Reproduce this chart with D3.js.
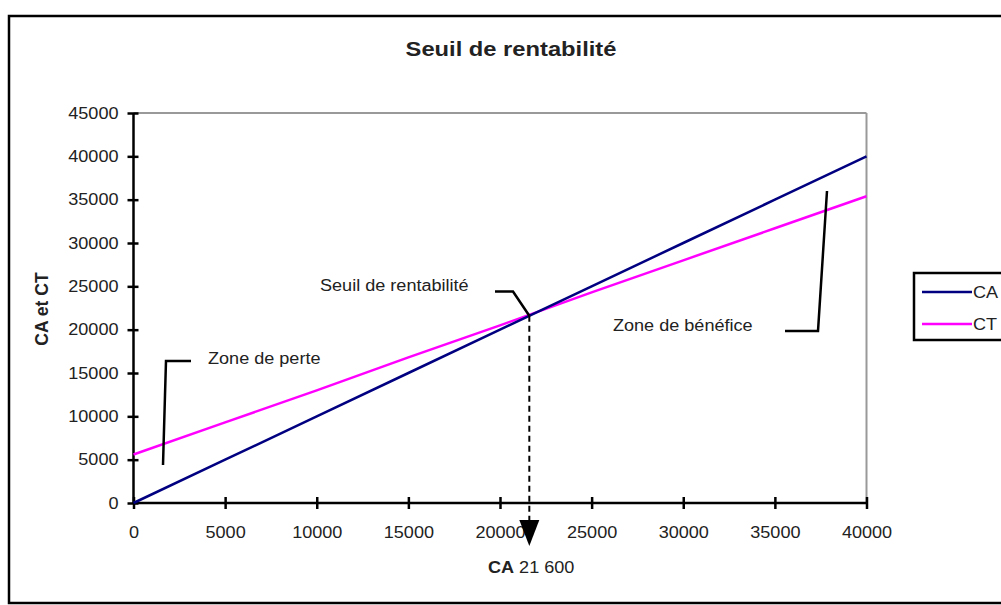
<!DOCTYPE html>
<html>
<head>
<meta charset="utf-8">
<script src="https://cdn.jsdelivr.net/npm/d3@7"></script>
<style>
  html, body { margin: 0; padding: 0; background: #fff; }
  svg { display: block; }
  text { font-family: "Liberation Sans", Arial, sans-serif; fill: #222; }
  .sx { transform-box: fill-box; }
</style>
</head>
<body>
<svg id="chart" width="1001" height="605"></svg>
<script>
// ---- data ----
const xValues = [0, 5000, 10000, 15000, 20000, 25000, 30000, 35000, 40000];
const caValues = [0, 5000, 10000, 15000, 20000, 25000, 30000, 35000, 40000];
const ctValues = [5600, 9300, 13000, 16800, 20500, 24300, 28000, 31700, 35400];
const seriesNames = ["CA", "CT"];
const yTicks = [0, 5000, 10000, 15000, 20000, 25000, 30000, 35000, 40000, 45000];
const xTicks = [0, 5000, 10000, 15000, 20000, 25000, 30000, 35000, 40000];
const breakEven = 21600;
const titleText = "Seuil de rentabilité";
const yTitle = "CA et CT";

const svg = d3.select("#chart");
const SX = 1.13;

const x = d3.scaleLinear().domain([0, 40000]).range([133.5, 866.5]);
const y = d3.scaleLinear().domain([0, 45000]).range([503, 113]);

function stretch(sel, origin) {
  sel.style("transform-box", "fill-box")
     .style("transform-origin", origin)
     .style("transform", "scaleX(" + SX + ")");
}

// outer frame
svg.append("rect").attr("x", 9).attr("y", 16).attr("width", 1010).attr("height", 587)
  .attr("fill", "none").attr("stroke", "#000").attr("stroke-width", 2.5);

// title
stretch(svg.append("text").attr("x", 511).attr("y", 56).attr("text-anchor", "middle")
  .style("font-size", "21px").style("font-weight", "bold").text(titleText), "center");

// plot area border (gray top & right)
svg.append("line").attr("x1", x(0)).attr("x2", x(40000)).attr("y1", y(45000)).attr("y2", y(45000))
  .attr("stroke", "#999").attr("stroke-width", 2);
svg.append("line").attr("x1", x(40000)).attr("x2", x(40000)).attr("y1", y(45000)).attr("y2", y(0))
  .attr("stroke", "#999").attr("stroke-width", 2);

// y axis
const gy = svg.append("g").attr("transform", `translate(${x(0)},0)`)
  .call(d3.axisLeft(y).tickValues(yTicks).tickSize(5).tickFormat(d3.format("d")));
gy.select(".domain").attr("stroke", "#000").attr("stroke-width", 2.5).attr("d", `M0,${y(0)}V${y(45000)}`);
gy.selectAll(".tick line").attr("x1", -6).attr("x2", 5).attr("stroke", "#000").attr("stroke-width", 2.5);
gy.selectAll(".tick text").attr("x", -15).style("font-size", "16px").style("font-family", '"Liberation Sans", Arial, sans-serif').attr("fill", "#222")
  .each(function() { stretch(d3.select(this), "right"); });

// x axis
const gx = svg.append("g").attr("transform", `translate(0,${y(0)})`)
  .call(d3.axisBottom(x).tickValues(xTicks).tickSize(5).tickFormat(d3.format("d")));
gx.select(".domain").attr("stroke", "#000").attr("stroke-width", 2.5).attr("d", `M${x(0)},0H${x(40000)}`);
gx.selectAll(".tick line").attr("y1", -6).attr("y2", 6).attr("stroke", "#000").attr("stroke-width", 2.5);
gx.selectAll(".tick text").attr("y", 35).attr("dy", 0).style("font-size", "16px").style("font-family", '"Liberation Sans", Arial, sans-serif').attr("fill", "#222")
  .each(function() { stretch(d3.select(this), "center"); });

// y title
svg.append("text").attr("transform", `translate(48,309) rotate(-90)`).attr("text-anchor", "middle")
  .style("font-size", "17.5px").style("font-weight", "bold").text(yTitle);

// series lines
const line = d3.line().x((d, i) => x(xValues[i])).y(d => y(d));
svg.append("path").datum(ctValues).attr("d", line).attr("fill", "none")
  .attr("stroke", "#ff00ff").attr("stroke-width", 2.5);
svg.append("path").datum(caValues).attr("d", line).attr("fill", "none")
  .attr("stroke", "#000080").attr("stroke-width", 2.5);

// break-even dashed line + arrow
const bx = x(breakEven);
svg.append("line").attr("x1", bx).attr("x2", bx).attr("y1", y(breakEven)).attr("y2", 522)
  .attr("stroke", "#000").attr("stroke-width", 2).attr("stroke-dasharray", "6,4");
svg.append("path").attr("d", `M${bx - 10},520L${bx + 10},520L${bx},546Z`).attr("fill", "#000");

// annotations
const lead = d3.line();
function leader(pts) {
  svg.append("path").attr("d", lead(pts)).attr("fill", "none").attr("stroke", "#000").attr("stroke-width", 2.5);
}
leader([[495, 291.5], [513, 291.5], [bx, y(breakEven)]]);
leader([[191, 361], [166, 361], [165, 395], [164, 430], [163, 465]]);
leader([[785, 331], [818, 331], [827, 191]]);

function label(tx, ty, txt) {
  stretch(svg.append("text").attr("x", tx).attr("y", ty).style("font-size", "16px").text(txt), "left");
}
label(320, 291, "Seuil de rentabilité");
label(208, 364, "Zone de perte");
label(613, 331, "Zone de bénéfice");

// bottom label
const bl = svg.append("text").attr("x", 488).attr("y", 573).style("font-size", "16px");
bl.append("tspan").style("font-weight", "bold").text("CA");
bl.append("tspan").text(" 21 600");
stretch(bl, "left");

// legend
const lg = svg.append("g");
lg.append("rect").attr("x", 914).attr("y", 273).attr("width", 120).attr("height", 67)
  .attr("fill", "#fff").attr("stroke", "#000").attr("stroke-width", 2.5);
const legColors = ["#000080", "#ff00ff"];
seriesNames.forEach((n, i) => {
  const ly = 292 + i * 32;
  lg.append("line").attr("x1", 922).attr("x2", 972).attr("y1", ly).attr("y2", ly)
    .attr("stroke", legColors[i]).attr("stroke-width", 2.5);
  stretch(lg.append("text").attr("x", 973).attr("y", ly + 6).style("font-size", "16px").text(n), "left");
});
</script>
</body>
</html>
